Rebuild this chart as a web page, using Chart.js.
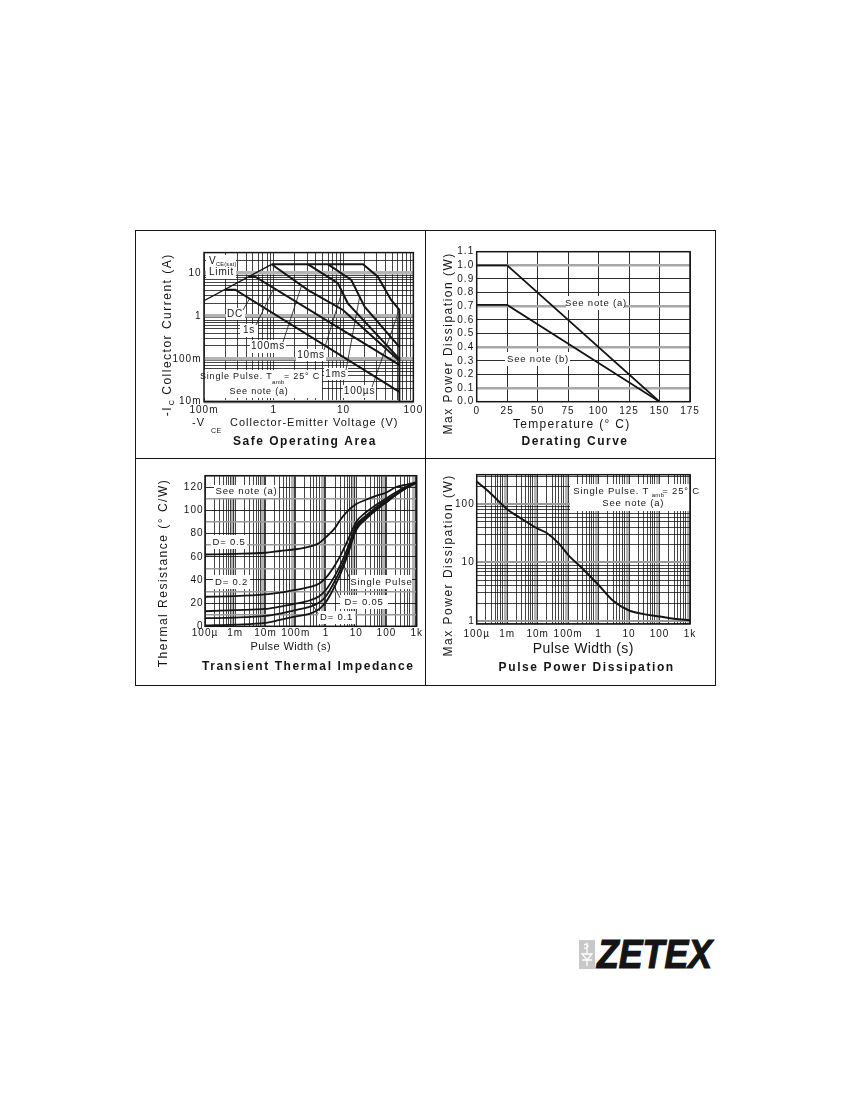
<!DOCTYPE html>
<html>
<head>
<meta charset="utf-8">
<script src="https://cdn.jsdelivr.net/npm/chart.js@4.4.1/dist/chart.umd.min.js"></script>
<style>
  body { margin: 0; background: #fff; }
  #page { position: relative; width: 850px; height: 1100px; overflow: hidden; }
  .frame { position: absolute; left: 135px; top: 230px; width: 581px; height: 456px; box-sizing: border-box; border: 1.5px solid #151515; }
  .rule { position: absolute; background: #151515; }
  canvas { position: absolute; }
  #mark { position: absolute; left: 579px; top: 940px; width: 16px; height: 29px; background: #c8c8c8; }
  #zetex { position: absolute; left: 597px; top: 934px; font: italic bold 40px "Liberation Sans", Arial, sans-serif; line-height: 40px; color: #151515; -webkit-text-stroke: 1.2px #151515; transform-origin: 0 0; white-space: nowrap; }
</style>
</head>
<body>
<div id="page">
  <div class="frame"></div>
  <div class="rule" style="left:424.5px; top:230px; width:1.5px; height:456px"></div>
  <div class="rule" style="left:135px; top:457.5px; width:581px; height:1.5px"></div>

  <canvas id="soa" width="287" height="225" style="left:137px; top:232px"></canvas>
  <canvas id="derating" width="288" height="225" style="left:427px; top:232px"></canvas>
  <canvas id="transient" width="287" height="225" style="left:137px; top:460px"></canvas>
  <canvas id="pulse" width="288" height="225" style="left:427px; top:460px"></canvas>

  <div id="mark">
    <svg width="16" height="29" viewBox="0 0 16 29">
      <g stroke="#fff" stroke-width="1.3" fill="none">
        <path d="M8 3 v10 M5 5 q3 -2 4 1 q-1 3 -4 2"/>
        <path d="M3 14 h10 l-5 6 z M3 20 h10 M8 20 v6"/>
      </g>
    </svg>
  </div>
  <div id="zetex">ZETEX</div>
</div>

<script>
// ---------- data ----------

// Safe Operating Area: -VCE (V) against -IC (A)
const soaXTicks = [0.1, 1, 10, 100];
const soaXLabels = ["100m", "1", "10", "100"];
const soaYTicks = [0.01, 0.1, 1, 10];
const soaYLabels = ["10m", "100m", "1", "10"];
const soaLimitV = [0.1, 0.93];
const soaLimitA = [2.27, 16];
const soaDcV = [0.2, 0.28, 63];
const soaDcA = [4.1, 4.1, 0.017];
const soa1sV = [0.43, 0.54, 63];
const soa1sA = [8.2, 8.2, 0.072];
const soa100msV = [0.93, 3.1, 9.8, 63];
const soa100msA = [16, 4.0, 1.38, 0.09];
const soa10msV = [3.1, 8.3, 11.5, 63];
const soa10msA = [16, 5.8, 1.97, 0.1];
const soa1msV = [6, 12.9, 20, 63];
const soa1msA = [16, 6.9, 1.64, 0.19];
const soa100usV = [0.93, 19, 31, 48, 63, 63];
const soa100usA = [16, 16, 8.2, 2.36, 1.38, 0.01];

// Derating curve: temperature (°C) against power (W)
const derXTicks = [0, 25, 50, 75, 100, 125, 150, 175];
const derYTicks = [0, 0.1, 0.2, 0.3, 0.4, 0.5, 0.6, 0.7, 0.8, 0.9, 1.0, 1.1];
const derTemp = [0, 25, 150];
const derNoteA = [1.0, 1.0, 0];
const derNoteB = [0.71, 0.71, 0];

// Transient thermal impedance: pulse width (s) against °C/W
const ttiXTicks = [1e-4, 1e-3, 1e-2, 0.1, 1, 10, 100, 1000];
const ttiXLabels = ["100µ", "1m", "10m", "100m", "1", "10", "100", "1k"];
const ttiYTicks = [0, 10, 20, 30, 40, 50, 60, 70, 80, 90, 100, 110, 120, 130];
const ttiTime = [1e-4, 1e-3, 1e-2, 0.03, 0.1, 0.3, 0.6, 1, 2, 3, 5, 10, 20, 50, 100, 200, 500, 1000];
const ttiD05 = [62, 62.5, 63.5, 65, 66.5, 69, 72, 77, 85, 92, 99, 105.5, 109, 113, 115.5, 120, 122.5, 124.5];
const ttiD02 = [25.5, 26, 27.5, 29, 31.5, 34, 37, 42, 53, 61, 73, 90, 98, 105.5, 110.5, 115.5, 121, 124];
const ttiD01 = [13, 14, 15, 17, 19.5, 22.5, 26, 31.5, 44, 53, 66.5, 87, 95, 103.5, 109, 114, 120.5, 124];
const ttiD005 = [7, 7.5, 9, 11, 14, 17, 20.5, 26, 39.5, 49, 63, 85, 93.5, 102, 108, 113.5, 120, 124];
const ttiSingle = [0.8, 1.5, 3, 5.5, 8.5, 11, 15, 21, 35, 45, 60, 83, 92, 101, 107, 113, 120, 124];

// Pulse power dissipation: pulse width (s) against W
const ppdYTicks = [1, 10, 100];
const ppdYLabels = ["1", "10", "100"];
const ppdTime = [1e-4, 3e-4, 1e-3, 3e-3, 1e-2, 2e-2, 5e-2, 0.1, 0.3, 1, 3, 10, 30, 100, 300, 1000];
const ppdPower = [245, 150, 82, 56, 38, 32, 21, 13.5, 7.8, 4.1, 2.2, 1.5, 1.3, 1.18, 1.08, 1.02];

// ---------- helpers ----------
const FONT = '"Liberation Sans", Arial, Helvetica, sans-serif';
const INK = "#151515";
const DARK = [INK, 0.8];
const GREY = ["#b4b4b4", 3.5];

const pts = (xs, ys) => xs.map((x, i) => ({ x, y: ys[i] }));

// every 1..9 x 10^n line between min and max, for the log grids
function logGrid(min, max) {
  const out = [];
  for (let e = Math.floor(Math.log10(min)); e <= Math.ceil(Math.log10(max)); e++) {
    for (let m = 1; m < 10; m++) {
      const v = parseFloat((m * Math.pow(10, e)).toPrecision(4));
      if (v >= min * 0.9999 && v <= max * 1.0001) out.push(v);
    }
  }
  return out;
}
const sig = (v) => Math.round(v / Math.pow(10, Math.floor(Math.log10(v) + 1e-9)));
const pick = (vals, labels) => (v) => {
  const i = vals.findIndex((t) => Math.abs(t - v) <= Math.abs(t) * 1e-6);
  return i < 0 ? "" : labels[i];
};

function axis(type, min, max, o) {
  const horiz = o.pos === "x";
  return {
    type, min, max,
    position: horiz ? "bottom" : "left",
    afterBuildTicks: (s) => { s.ticks = o.grid.map((value) => ({ value })); },
    afterFit: (s) => { if (horiz) s.height = o.size; else s.width = o.size; },
    ticks: {
      autoSkip: false, maxRotation: 0, minRotation: 0,
      padding: o.pad, color: INK,
      font: { family: FONT, size: 10 },
      callback: o.label,
    },
    grid: {
      drawTicks: false,
      color: (c) => (c.tick ? o.line(c.tick.value)[0] : INK),
      lineWidth: (c) => (c.tick ? o.line(c.tick.value)[1] : 0.8),
    },
    border: { display: false },
  };
}

// white label boxes, leader lines, frame and all the lettering
function sheetText(notes) {
  return {
    id: "sheetText",
    beforeDraw(chart) { chart.ctx.letterSpacing = "1px"; },
    beforeDatasetsDraw(chart) {
      const { ctx, chartArea: a } = chart;
      ctx.save();
      ctx.fillStyle = "#fff";
      (notes.boxes || []).forEach((b) => ctx.fillRect(a.left + b[0], a.top + b[1], b[2], b[3]));
      ctx.restore();
    },
    afterDatasetsDraw(chart) {
      const { ctx, chartArea: a, scales } = chart;
      ctx.save();
      ctx.strokeStyle = INK;
      ctx.lineWidth = 0.8;
      (notes.leaders || []).forEach((l) => {
        ctx.beginPath();
        ctx.moveTo(a.left + l.from[0], a.top + l.from[1]);
        ctx.lineTo(scales.x.getPixelForValue(l.to[0]), scales.y.getPixelForValue(l.to[1]));
        ctx.stroke();
      });
      ctx.lineWidth = 1.5;
      ctx.strokeRect(a.left, a.top, a.right - a.left, a.bottom - a.top);
      ctx.fillStyle = INK;
      ctx.textBaseline = "middle";
      (notes.texts || []).forEach((t) => {
        ctx.save();
        ctx.font = (t.bold ? "bold " : "") + (t.size || 9.5) + "px " + FONT;
        ctx.letterSpacing = (t.sp ?? 0.8) + "px";
        ctx.textAlign = t.align || "center";
        ctx.translate(a.left + t.x, a.top + t.y);
        if (t.rot) ctx.rotate(-Math.PI / 2);
        ctx.fillText(t.text, 0, 0);
        ctx.restore();
      });
      ctx.restore();
    },
  };
}

function line(data, width, smooth) {
  return {
    data, showLine: true, borderColor: INK, borderWidth: width,
    pointRadius: 0, tension: 0,
    cubicInterpolationMode: smooth ? "monotone" : "default",
  };
}

function sheet(id, padding, scales, datasets, notes) {
  return new Chart(document.getElementById(id), {
    type: "scatter",
    data: { datasets },
    options: {
      responsive: false, animation: false, events: [],
      layout: { padding },
      plugins: { legend: { display: false }, tooltip: { enabled: false } },
      scales,
    },
    plugins: [sheetText(notes)],
  });
}

// ---------- Safe Operating Area ----------
sheet("soa", { left: 0, top: 20.6, right: 10, bottom: 0 }, {
  x: axis("logarithmic", 0.1, 100, {
    pos: "x", size: 55.3, pad: 2.3, grid: logGrid(0.1, 100),
    label: pick(soaXTicks, soaXLabels), line: () => DARK,
  }),
  y: axis("logarithmic", 0.01, 30, {
    pos: "y", size: 67, pad: 2.5, grid: logGrid(0.01, 30),
    label: pick(soaYTicks, soaYLabels), line: (v) => (sig(v) === 1 ? GREY : DARK),
  }),
}, [
  line(pts(soaLimitV, soaLimitA), 1.3),
  line(pts(soaDcV, soaDcA), 2),
  line(pts(soa1sV, soa1sA), 2),
  line(pts(soa100msV, soa100msA), 2),
  line(pts(soa10msV, soa10msA), 2),
  line(pts(soa1msV, soa1msA), 2),
  line(pts(soa100usV, soa100usA), 2),
], {
  boxes: [[2, 2.4, 30, 24], [22, 55.4, 19, 12], [36, 71.4, 18, 13], [46, 87.4, 36, 13],
          [92, 96.4, 30, 12], [120, 115.4, 24, 12], [139, 132.4, 33, 13], [-6, 117.4, 124, 28]],
  leaders: [
    { from: [39, 57.4], to: [0.45, 2.53] },
    { from: [52, 72.4], to: [1.0, 4.4] },
    { from: [79, 89.4], to: [2.5, 5.1] },
    { from: [120, 97.4], to: [9.5, 3.7] },
    { from: [142, 117.4], to: [17, 2.8] },
    { from: [168, 134.4], to: [63, 1.4] },
  ],
  texts: [
    { text: "-V", x: -12, y: 170.7, size: 11, sp: 1, align: "left" },
    { text: "CE", x: 7, y: 178.9, size: 7, sp: 0.5, align: "left" },
    { text: "Collector-Emitter Voltage (V)", x: 26, y: 170.7, size: 11, sp: 1, align: "left" },
    { text: "Safe Operating Area", x: 101, y: 189.1, size: 12, bold: true, sp: 1.5 },
    { text: "-I", x: -36, y: 158.4, size: 12, sp: 1.5, rot: true },
    { text: "C", x: -31.5, y: 150, size: 7, sp: 0, rot: true },
    { text: "Collector Current (A)", x: -36, y: 71.4, size: 12, sp: 1.5, rot: true },
    { text: "V", x: 5, y: 8.4, size: 10, align: "left" },
    { text: "CE(sat)", x: 12, y: 11.4, size: 5.5, sp: 0.3, align: "left" },
    { text: "Limit", x: 5, y: 19.4, size: 10, align: "left" },
    { text: "DC", x: 31, y: 61.4, size: 10 },
    { text: "1s", x: 45, y: 77.9, size: 10 },
    { text: "100ms", x: 64, y: 94.1, size: 10 },
    { text: "10ms", x: 107, y: 102.4, size: 10 },
    { text: "1ms", x: 132, y: 121.4, size: 10 },
    { text: "100µs", x: 155.5, y: 139.1, size: 10 },
    { text: "Single Pulse. T", x: -4, y: 124.4, size: 9, sp: 0.8, align: "left" },
    { text: "amb", x: 68, y: 129.6, size: 6, sp: 0.3, align: "left" },
    { text: "= 25° C", x: 80, y: 124.4, size: 9, sp: 0.8, align: "left" },
    { text: "See note (a)", x: 55, y: 139.1, size: 9 },
  ],
});

// ---------- Derating Curve ----------
sheet("derating", { left: 0, top: 19.7, right: 25, bottom: 0 }, {
  x: axis("linear", 0, 175, {
    pos: "x", size: 55.3, pad: 4, grid: derXTicks,
    label: (v) => String(v), line: () => [INK, 0.9],
  }),
  y: axis("linear", 0, 1.1, {
    pos: "y", size: 49.7, pad: 2.5, grid: derYTicks,
    label: (v) => v.toFixed(1),
    line: (v) => (Math.round(v * 10) % 3 === 1 ? ["#a8a8a8", 2.6] : [INK, 0.9]),
  }),
}, [
  line(pts(derTemp, derNoteA), 1.8),
  line(pts(derTemp, derNoteB), 1.8),
], {
  boxes: [[89.3, 44.3, 59, 14], [28.3, 100.3, 65, 14]],
  texts: [
    { text: "Max Power Dissipation (W)", x: -28.4, y: 91.6, size: 12, sp: 1.5, rot: true },
    { text: "Temperature (° C)", x: 95, y: 172.6, size: 12, sp: 1.3 },
    { text: "Derating Curve", x: 98.3, y: 190.3, size: 12, bold: true, sp: 1.5 },
    { text: "See note (a)", x: 119.3, y: 51.6 },
    { text: "See note (b)", x: 61.3, y: 107.6 },
  ],
});

// ---------- Transient Thermal Impedance ----------
sheet("transient", { left: 0, top: 15.7, right: 7.3, bottom: 0 }, {
  x: axis("logarithmic", 1e-4, 1000, {
    pos: "x", size: 58.7, pad: 0.7, grid: logGrid(1e-4, 1000),
    label: pick(ttiXTicks, ttiXLabels), line: (v) => (sig(v) === 8 ? GREY : DARK),
  }),
  y: axis("linear", 0, 130, {
    pos: "y", size: 68, pad: 1.5, grid: ttiYTicks,
    label: (v) => (v % 20 === 0 && v <= 120 ? String(v) : ""),
    line: (v) => (v % 20 === 0 ? [INK, 0.9] : ["#9a9a9a", 1.6]),
  }),
}, [
  line(pts(ttiTime, ttiD05), 1.8, true),
  line(pts(ttiTime, ttiD02), 1.8, true),
  line(pts(ttiTime, ttiD01), 1.8, true),
  line(pts(ttiTime, ttiD005), 1.8, true),
  line(pts(ttiTime, ttiSingle), 1.8, true),
], {
  boxes: [[9, 9.3, 65, 13], [6, 59.3, 36, 14], [8, 99.3, 37, 14], [145, 99.3, 62, 14],
          [135, 119.3, 48, 14], [113, 135.3, 37, 13]],
  leaders: [
    { from: [145, 103], to: [4, 52] },
    { from: [135, 122], to: [1.75, 36] },
    { from: [113, 138], to: [0.3, 22] },
  ],
  texts: [
    { text: "Thermal Resistance (° C/W)", x: -41.7, y: 97.3, size: 12, sp: 1.5, rot: true },
    { text: "Pulse Width (s)", x: 85.7, y: 171.6, size: 11, sp: 0.4 },
    { text: "Transient Thermal Impedance", x: 103.3, y: 190.6, size: 12, bold: true, sp: 1.6 },
    { text: "See note (a)", x: 41.5, y: 15.6 },
    { text: "D= 0.5", x: 24, y: 66.6 },
    { text: "D= 0.2", x: 26.5, y: 106.6 },
    { text: "Single Pulse", x: 176.5, y: 106.6 },
    { text: "D= 0.05", x: 159, y: 126.6 },
    { text: "D= 0.1", x: 131.5, y: 141.6 },
  ],
});

// ---------- Pulse Power Dissipation ----------
sheet("pulse", { left: 0, top: 14.7, right: 25, bottom: 0 }, {
  x: axis("logarithmic", 1e-4, 1000, {
    pos: "x", size: 61, pad: 4.7, grid: logGrid(1e-4, 1000),
    label: pick(ttiXTicks, ttiXLabels), line: (v) => (sig(v) === 9 ? GREY : DARK),
  }),
  y: axis("logarithmic", 0.88, 320, {
    pos: "y", size: 49.7, pad: 2, grid: logGrid(0.88, 320),
    label: pick(ppdYTicks, ppdYLabels), line: (v) => (sig(v) === 1 ? ["#9a9a9a", 2] : DARK),
  }),
}, [
  line(pts(ppdTime, ppdPower), 2, true),
], {
  boxes: [[93.3, 9.3, 120, 27]],
  texts: [
    { text: "Max Power Dissipation (W)", x: -28.4, y: 90.6, size: 12, sp: 1.5, rot: true },
    { text: "Pulse Width (s)", x: 106.6, y: 174, size: 14, sp: 0.4 },
    { text: "Pulse Power Dissipation", x: 110, y: 192.6, size: 12, bold: true, sp: 1.6 },
    { text: "Single Pulse. T", x: 96.6, y: 16.6, align: "left" },
    { text: "amb", x: 175, y: 20.3, size: 6, sp: 0.3, align: "left" },
    { text: "= 25° C", x: 185.6, y: 16.6, align: "left" },
    { text: "See note (a)", x: 156.6, y: 29 },
  ],
});

// logo lettering squeezed to the printed width
const logo = document.getElementById("zetex");
logo.style.transform = "scaleX(" + (115 / logo.getBoundingClientRect().width).toFixed(3) + ")";
</script>
</body>
</html>
